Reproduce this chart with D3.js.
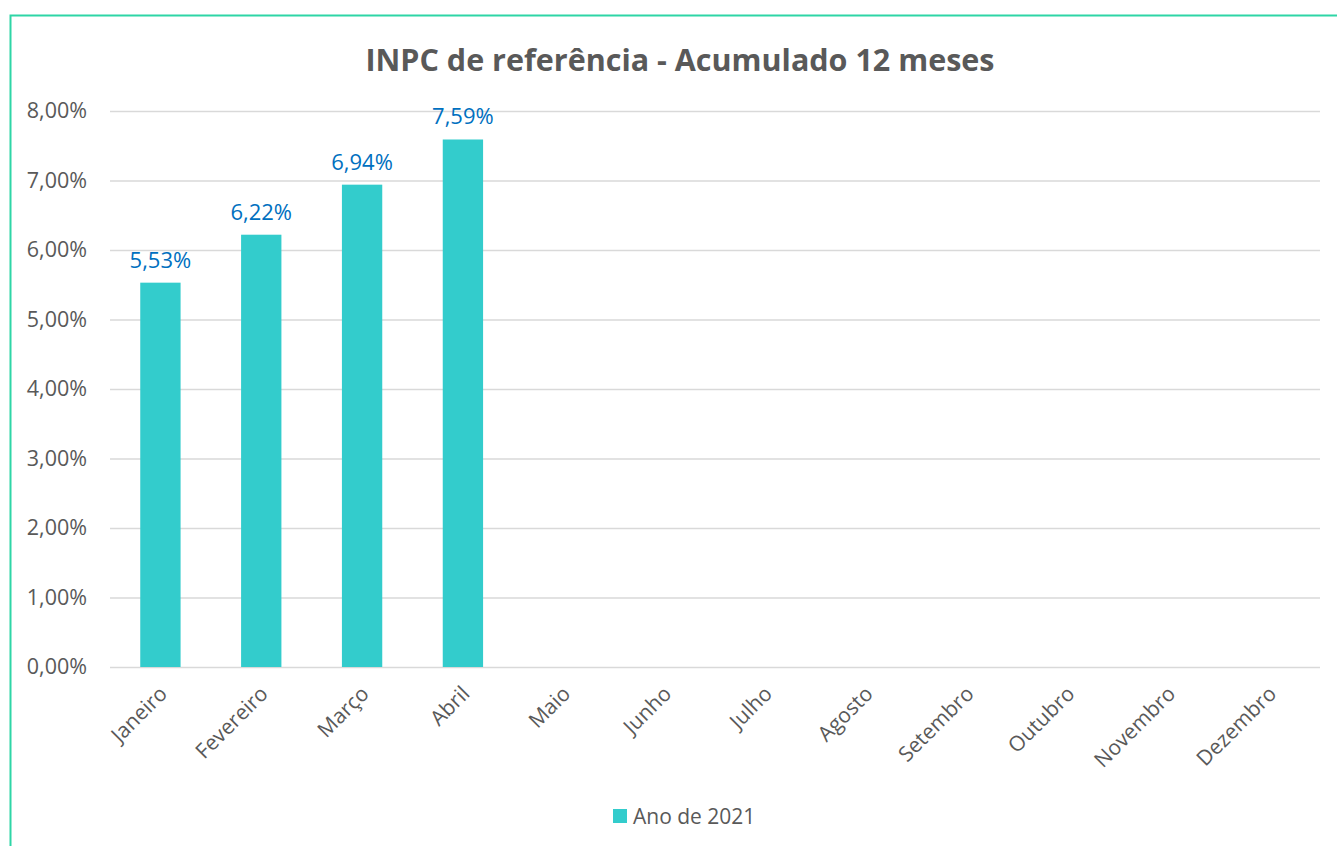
<!DOCTYPE html>
<html><head><meta charset="utf-8">
<script src="https://cdn.jsdelivr.net/npm/d3@7"></script>
<style>body{margin:0;background:#fff;} text{font-family:"Open Sans","Noto Sans",sans-serif;}</style>
</head><body><svg id="c" width="1337" height="846"></svg>
<script>
const categories = ["Janeiro","Fevereiro","Março","Abril","Maio","Junho","Julho","Agosto","Setembro","Outubro","Novembro","Dezembro"];
const values = [5.53, 6.22, 6.94, 7.59, null, null, null, null, null, null, null, null];
const yTicks = [0,1,2,3,4,5,6,7,8];
const seriesName = "Ano de 2021";
const title = "INPC de referência - Acumulado 12 meses";

const svg = d3.select("#c");
svg.append("rect").attr("x",10.5).attr("y",15.5).attr("width",1340).attr("height",850)
  .attr("fill","none").attr("stroke","#2ED5A6").attr("stroke-width",2);

const x = d3.scaleBand().domain(categories).range([110,1320]).paddingInner(0.6).paddingOuter(0.3);
const y = d3.scaleLinear().domain([0,8]).range([667,111]);
const fmt = v => d3.format(".2f")(v).replace(".",",") + "%";

svg.append("text").attr("x",680).attr("y",71).attr("text-anchor","middle")
  .attr("font-size",30.5).attr("font-weight","bold").attr("fill","#595959").text(title);

const yAxis = d3.axisLeft(y).tickValues(yTicks).tickSize(-(1320-110)).tickFormat(fmt).tickPadding(23);
const gy = svg.append("g").attr("transform","translate(110,0)").call(yAxis);
gy.select(".domain").remove();
gy.selectAll(".tick line").attr("stroke","#D9D9D9").attr("stroke-width",1.5);
gy.selectAll(".tick text").attr("font-size",21.5).attr("fill","#595959").attr("font-family","Open Sans");

const xAxis = d3.axisBottom(x).tickSize(0).tickPadding(0);
const gx = svg.append("g").attr("transform","translate(0,667)").call(xAxis);
gx.select(".domain").remove();
gx.selectAll(".tick text").attr("font-size",21).attr("fill","#595959").attr("font-family","Open Sans")
  .attr("text-anchor","end").attr("dy",0).attr("y",0)
  .attr("transform","translate(8,28) rotate(-45)");

const data = categories.map((c,i)=>({c, v: values[i]})).filter(d=>d.v!=null);
svg.append("g").selectAll("rect").data(data).join("rect")
  .attr("x",d=>x(d.c)).attr("width",x.bandwidth())
  .attr("y",d=>y(d.v)).attr("height",d=>y(0)-y(d.v)).attr("fill","#33CCCC");
svg.append("g").selectAll("text").data(data).join("text")
  .attr("x",d=>x(d.c)+x.bandwidth()/2).attr("y",d=>y(d.v)-15)
  .attr("text-anchor","middle").attr("font-size",22).attr("fill","#0070C0").text(d=>fmt(d.v));

const lg = svg.append("g");
lg.append("rect").attr("x",613).attr("y",809).attr("width",14).attr("height",14).attr("fill","#33CCCC");
lg.append("text").attr("x",633).attr("y",824).attr("font-size",21).attr("fill","#595959").text(seriesName);
</script></body></html>
